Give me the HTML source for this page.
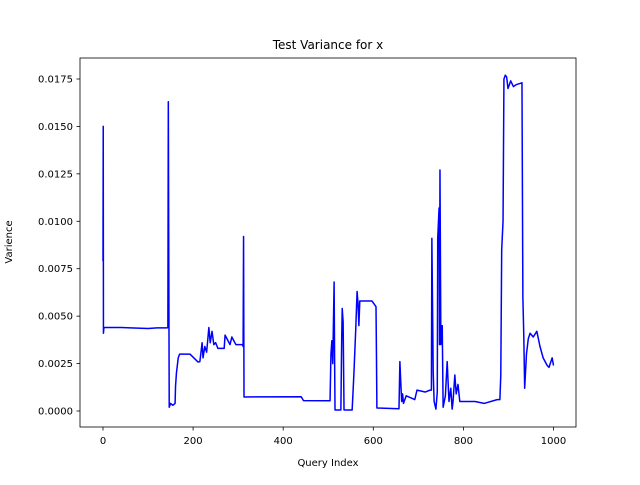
<!DOCTYPE html>
<html><head><meta charset="utf-8"><style>
body{margin:0;background:#fff}
svg text{font-family:"DejaVu Sans","Liberation Sans",sans-serif;font-size:10px;fill:#000}
</style></head><body>
<svg id="chart" width="640" height="480" xmlns="http://www.w3.org/2000/svg">
<rect width="640" height="480" fill="#fff"/>
<text x="328" y="49" text-anchor="middle" style="font-size:12px">Test Variance for x</text>
<text x="328" y="466" text-anchor="middle">Query Index</text>
<text x="12" y="242" text-anchor="middle" transform="rotate(-90 12 242)">Varience</text>
<g id="ticks"></g>
<path id="line" fill="none" stroke="#0000ff" stroke-width="1.5" stroke-linejoin="round"/>
<rect x="80" y="58" width="496" height="369" fill="none" stroke="#000" stroke-width="0.8"/>
</svg>
<script>
const xs=[0,0.5,1,2,40,100,120,142,144,145,146,147,150,155,160,161,163,167,170,185,193,211,215,220,222,226,230,235,238,242,246,250,255,269,271,282,286,295,300,310,311,312,313,440,445,504,506,508,510,513,514,515,528,530,531,533,535,553,555,557,561,564,566,568,570,573,597,606,607,608,657,659,661,663,665,667,673,692,697,715,726,729,730,733,735,739,742,743,746,747,748,750,753,755,760,764,768,772,775,777,781,784,788,792,799,826,846,875,881,883,885,888,890,893,896,899,905,911,917,930,932,934,936,940,944,948,955,963,970,977,986,990,997,1000];
const ys=[0.0079,0.0150,0.0041,0.0044,0.0044,0.00435,0.00438,0.00438,0.0044,0.0163,0.0080,0.0002,0.0004,0.0003,0.0004,0.0013,0.0020,0.0028,0.0030,0.0030,0.0030,0.00258,0.0026,0.0036,0.0028,0.0034,0.0031,0.0044,0.0036,0.0042,0.0035,0.0036,0.0033,0.0033,0.0040,0.0035,0.0039,0.0035,0.0035,0.0035,0.0034,0.0092,0.00074,0.00075,0.00055,0.00054,0.0030,0.0037,0.0025,0.0068,0.0030,0.00005,0.00005,0.0040,0.0054,0.0047,0.00005,0.00005,0.0010,0.0020,0.0043,0.0063,0.0057,0.0045,0.0058,0.0058,0.0058,0.0055,0.0030,0.00016,0.00012,0.0026,0.0015,0.0005,0.0009,0.0004,0.0008,0.0006,0.0011,0.0010,0.0011,0.0011,0.0091,0.0020,0.0005,0.0001,0.0010,0.0091,0.0107,0.0035,0.0127,0.0035,0.0045,0.0002,0.0008,0.0026,0.0005,0.0012,0.0001,0.0005,0.0019,0.0009,0.0014,0.0005,0.0005,0.0005,0.0004,0.0006,0.0006,0.0019,0.0085,0.0100,0.0175,0.0177,0.0176,0.0170,0.0174,0.0171,0.0172,0.0173,0.0060,0.0040,0.0012,0.0030,0.0038,0.0041,0.0039,0.0042,0.0034,0.0028,0.0024,0.0023,0.0028,0.0024];
const xTicks=[0,200,400,600,800,1000];
const yTicks=[0,0.0025,0.005,0.0075,0.01,0.0125,0.015,0.0175];
const yLabels=["0.0000","0.0025","0.0050","0.0075","0.0100","0.0125","0.0150","0.0175"];
function X(v){return 103+v*0.4505;}
function Y(v){return 411-v*18972;}
let d="";
const n=Math.min(xs.length,ys.length);
for(let i=0;i<n;i++){d+=(i?"L":"M")+X(xs[i]).toFixed(2)+","+Y(ys[i]).toFixed(2);}
document.getElementById('line').setAttribute('d',d);
const g=document.getElementById('ticks');
const NS="http://www.w3.org/2000/svg";
xTicks.forEach(t=>{
 const l=document.createElementNS(NS,'line');
 
 
 l.setAttribute('x1',X(t));l.setAttribute('x2',X(t));l.setAttribute('y1',427);l.setAttribute('y2',430.5);l.setAttribute('stroke','#000');l.setAttribute('stroke-width','0.8');
 g.appendChild(l);
 const tx=document.createElementNS(NS,'text');
 
 
 tx.setAttribute('x',X(t));tx.setAttribute('y',444);tx.setAttribute('text-anchor','middle');tx.textContent=t;
 g.appendChild(tx);
});
yTicks.forEach((t,i)=>{
 const l=document.createElementNS(NS,'line');
 
 
 l.setAttribute('x1',76.5);l.setAttribute('x2',80);l.setAttribute('y1',Y(t));l.setAttribute('y2',Y(t));l.setAttribute('stroke','#000');l.setAttribute('stroke-width','0.8');
 g.appendChild(l);
 const tx=document.createElementNS(NS,'text');
 
 
 tx.setAttribute('x',73);tx.setAttribute('y',Y(t)+3.5);tx.setAttribute('text-anchor','end');tx.textContent=yLabels[i];
 g.appendChild(tx);
});
</script>
</body></html>
